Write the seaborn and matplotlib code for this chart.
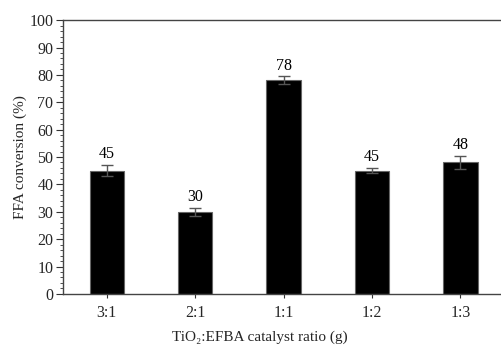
import matplotlib
matplotlib.use("Agg")
import matplotlib.pyplot as plt
import seaborn as sns
import pandas as pd
from matplotlib.ticker import MultipleLocator

ratios = ["3:1", "2:1", "1:1", "1:2", "1:3"]
conversion = [45, 30, 78, 45, 48]
errors = [2.0, 1.5, 1.5, 1.0, 2.5]

df = pd.DataFrame({"ratio": ratios, "conversion": conversion})

sns.set_theme(style="white")
plt.rcParams["font.family"] = ["Liberation Serif", "DejaVu Serif"]

fig = plt.figure(figsize=(5.01, 3.47), dpi=100)
ax = fig.add_axes([0.126, 0.153, 0.874, 0.789])

sns.barplot(data=df, x="ratio", y="conversion", color="black", width=0.39,
            edgecolor="#666666", linewidth=0.8, ax=ax, errorbar=None, saturation=1)

ax.errorbar(range(len(ratios)), conversion, yerr=errors, fmt="none",
            ecolor="#555555", elinewidth=1.0, capsize=4, capthick=1.0)

for i, (v, e) in enumerate(zip(conversion, errors)):
    ax.text(i, v + e + 1.0, f"{v}", ha="center", va="bottom", fontsize=11.5, color="black")

ax.set_xlim(-0.495, 4.46)
ax.set_ylim(0, 100)
ax.yaxis.set_major_locator(MultipleLocator(10))
ax.yaxis.set_minor_locator(MultipleLocator(2))

for side in ["top", "left", "bottom"]:
    ax.spines[side].set_visible(True)
    ax.spines[side].set_color("#444444")
    ax.spines[side].set_linewidth(1.0)
ax.spines["right"].set_visible(False)

ax.tick_params(axis="y", which="major", direction="out", length=5, width=0.8,
               color="#333333", labelsize=11.5, pad=2, left=True)
ax.tick_params(axis="y", which="minor", direction="out", length=2.5, width=0.6,
               color="#333333", left=True)
ax.tick_params(axis="x", which="major", direction="out", length=3, width=0.8,
               color="#333333", labelsize=11.5, pad=5, bottom=True)

ax.set_xlabel("TiO\u2082:EFBA catalyst ratio (g)", fontsize=11)
ax.xaxis.set_label_coords(0.45, -0.135)
ax.set_ylabel("FFA conversion (%)", fontsize=11, labelpad=2)

fig.savefig("out.png", dpi=100)
